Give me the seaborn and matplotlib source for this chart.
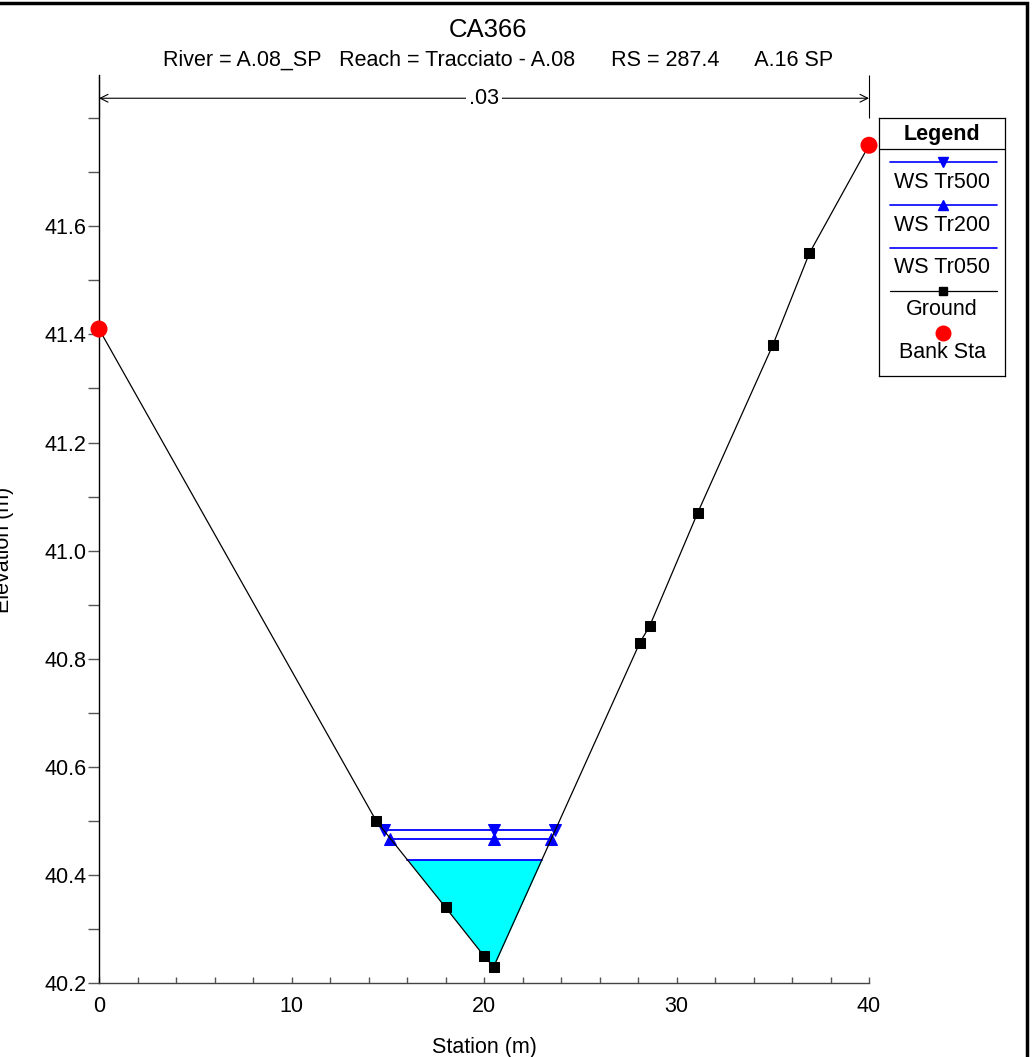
import numpy as np
import pandas as pd
import matplotlib
matplotlib.use("Agg")
import matplotlib.pyplot as plt
import seaborn as sns
from matplotlib.patches import Rectangle
from matplotlib.ticker import FormatStrFormatter, MultipleLocator

# ---------------- data ----------------
station = [0.0, 14.4, 18.0, 20.0, 20.5, 28.1, 28.6, 31.1, 35.0, 36.9, 40.0]
elevation = [41.41, 40.50, 40.34, 40.25, 40.23, 40.83, 40.86, 41.07, 41.38, 41.55, 41.75]
bank_station = [0.0, 40.0]
bank_elev = [41.41, 41.75]
ws_names = ["WS Tr500", "WS Tr200", "WS Tr050"]
ws_elev = [40.483, 40.467, 40.428]
manning_n = ".03"
title = "CA366"
subtitle = "River = A.08_SP   Reach = Tracciato - A.08      RS = 287.4      A.16 SP"
y_ticks = [40.2, 40.4, 40.6, 40.8, 41.0, 41.2, 41.4, 41.6]
x_ticks = [0, 10, 20, 30, 40]

sns.set_theme(style="white")
plt.rcParams["font.family"] = ["Liberation Sans", "DejaVu Sans"]
plt.rcParams["text.color"] = "black"
plt.rcParams["axes.labelcolor"] = "black"
plt.rcParams["xtick.labelcolor"] = "black"
plt.rcParams["ytick.labelcolor"] = "black"

FS = 15.5
W, H = 1033, 1057
fig = plt.figure(figsize=(W / 100, H / 100), dpi=100)
ax = fig.add_axes([99 / W, 1 - 983 / H, (869 - 99) / W, (983 - 75) / H])

st = np.array(station)
el = np.array(elevation)
imin = int(np.argmin(el))


def extent(z):
    lx = np.interp(z, el[: imin + 1][::-1], st[: imin + 1][::-1])
    rx = np.interp(z, el[imin:], st[imin:])
    return lx, rx


# water fill for lowest profile
z50 = ws_elev[2]
lx, rx = extent(z50)
inner = st[(st > lx) & (st < rx)]
xs = np.concatenate([[lx], inner, [rx]])
gs = np.interp(xs, st, el)
ax.fill_between(xs, gs, z50, color="#00FFFF", linewidth=0, zorder=1)

# water surface lines
ws_markers = ["v", "^", None]
for name, z, mk in zip(ws_names, ws_elev, ws_markers):
    lx, rx = extent(z)
    if mk is None:
        df = pd.DataFrame({"x": [lx, rx], "y": [z, z]})
        sns.lineplot(data=df, x="x", y="y", color="#0000FF", linewidth=1.3,
                     sort=False, estimator=None, ax=ax, zorder=2)
    else:
        df = pd.DataFrame({"x": [lx, st[imin], rx], "y": [z, z, z]})
        sns.lineplot(data=df, x="x", y="y", color="#0000FF", linewidth=1.3,
                     marker=mk, markersize=8, markeredgecolor="#0000FF",
                     markerfacecolor="#0000FF", sort=False, estimator=None,
                     ax=ax, zorder=3)

# ground
gdf = pd.DataFrame({"Station": station, "Elevation": elevation})
sns.lineplot(data=gdf, x="Station", y="Elevation", color="black", linewidth=0.9,
             marker="s", markersize=7, markeredgecolor="black",
             markerfacecolor="black", sort=False, estimator=None, ax=ax, zorder=4)

# bank stations
sns.scatterplot(x=bank_station, y=bank_elev, color="#FF0000", s=150,
                edgecolor="none", ax=ax, zorder=6, clip_on=False)

# axes formatting
ax.set_xlim(0, 40)
ax.set_ylim(40.2, 41.88)
for s in ["top", "right"]:
    ax.spines[s].set_visible(False)
ax.spines["left"].set_color("black")
ax.spines["bottom"].set_color("#444444")
for s in ["left", "bottom"]:
    ax.spines[s].set_linewidth(1.0)
ax.set_yticks(y_ticks)
ax.yaxis.set_minor_locator(MultipleLocator(0.1))
ax.set_xticks(x_ticks)
ax.xaxis.set_minor_locator(MultipleLocator(2))
ax.yaxis.set_major_formatter(FormatStrFormatter("%.1f"))
ax.tick_params(axis="y", which="both", direction="out", length=8, width=1,
               color="#555555", labelsize=FS, pad=1, left=True)
ax.tick_params(axis="x", which="both", direction="in", length=4.5, width=1,
               color="#555555", labelsize=FS, pad=9, bottom=True)
ax.set_xlabel("")
ax.set_ylabel("")

# Manning's n bracket
yb = 41.837
ax.annotate("", xy=(station[0], yb), xytext=(station[-1], yb),
            arrowprops=dict(arrowstyle="<->", lw=0.8, color="black",
                            shrinkA=0, shrinkB=0, mutation_scale=14),
            annotation_clip=False)
ax.vlines([station[0], station[-1]], 41.80, 41.88, color="black", lw=0.8,
          clip_on=False)
ax.text((station[0] + station[-1]) / 2, yb, manning_n, ha="center", va="center",
        fontsize=FS, bbox=dict(facecolor="white", edgecolor="none", pad=2))

# titles and labels
fig.text(488 / W, 1 - 30 / H, title, ha="center", va="center", fontsize=18.5)
fig.text(498 / W, 1 - 60 / H, subtitle, ha="center", va="center", fontsize=FS)
fig.text(484 / W, 1 - 1047 / H, "Station (m)", ha="center", va="center", fontsize=FS)
fig.text(4 / W, 1 - 550 / H, "Elevation (m)", ha="center", va="center",
         rotation=90, fontsize=FS)

# legend box (manual, entries stacked: sample above label)
lax = fig.add_axes([879 / W, 1 - 376 / H, (1005 - 879) / W, (376 - 118) / H])
lax.set_xlim(879, 1005)
lax.set_ylim(376, 118)
lax.set_xticks([])
lax.set_yticks([])
lax.set_facecolor("white")
for s in lax.spines.values():
    s.set_visible(True)
    s.set_color("black")
    s.set_linewidth(0.9)
lax.text(942, 140, "Legend", ha="center", va="baseline", fontsize=FS, fontweight="bold")
lax.plot([879, 1005], [149, 149], color="black", lw=0.9)
ly = [162, 205, 248, 291]
ty = [188, 231, 273, 315]
styles = [("#0000FF", "v"), ("#0000FF", "^"), ("#0000FF", None), ("black", "s")]
names = ws_names + ["Ground"]
for (c, m), y0, y1, nm in zip(styles, ly, ty, names):
    lax.plot([890, 997], [y0, y0], color=c, lw=1.2 if c != "black" else 0.9)
    if m is not None:
        lax.plot([943], [y0], marker=m, color=c, markersize=7 if m != "s" else 6,
                 linestyle="none")
    lax.text(942, y1, nm, ha="center", va="baseline", fontsize=FS)
lax.plot([943], [333], marker="o", color="#FF0000", markersize=10.5, linestyle="none")
lax.text(942, 358, "Bank Sta", ha="center", va="baseline", fontsize=FS)

# outer frame
fig.add_artist(Rectangle((-0.05, -0.05), 1027.5 / W + 0.05, 1 - 3 / H + 0.05,
                         transform=fig.transFigure, fill=False,
                         edgecolor="black", linewidth=2.5))

fig.savefig("out.png", dpi=100)
